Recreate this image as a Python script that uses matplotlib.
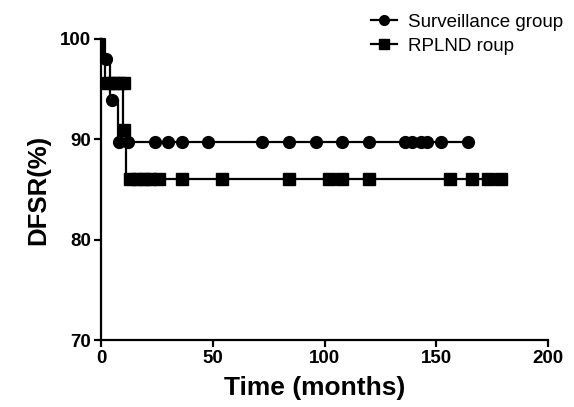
import matplotlib.pyplot as plt

# Kaplan-Meier style step data
surv_times = [0, 1, 4, 7.5]
surv_vals = [100, 98.0, 93.9, 89.7]
surv_end = 164
surv_cens_t = [2.4, 5, 8, 12, 24, 30, 36, 48, 72, 84, 96, 108, 120,
               136, 139, 143, 146, 152, 164]
surv_cens_v = [98.0, 93.9] + [89.7] * 17

rplnd_times = [0, 2, 10, 11]
rplnd_vals = [100, 95.6, 90.9, 86.0]
rplnd_end = 180
rplnd_cens_t = [3, 5.5, 8, 10.5, 10.5, 13, 16, 19, 22, 26, 36, 54, 84,
                102, 108, 120, 156, 166, 173, 179]
rplnd_cens_v = [95.6] * 4 + [90.9] + [86.0] * 15

xticks = [0, 50, 100, 150, 200]
yticks = [70, 80, 90, 100]

plt.rcParams['font.family'] = ['Liberation Sans', 'DejaVu Sans']

fig = plt.figure(figsize=(5.74, 4.07), dpi=100)
ax = fig.add_axes([0.176, 0.1646, 0.779, 0.7396])

ax.step(surv_times + [surv_end], surv_vals + [surv_vals[-1]], where='post',
        color='black', linewidth=1.6, clip_on=False)
ax.plot(surv_cens_t, surv_cens_v, linestyle='none', marker='o', markersize=8.5,
        color='black', clip_on=False)

ax.step(rplnd_times + [rplnd_end], rplnd_vals + [rplnd_vals[-1]], where='post',
        color='black', linewidth=1.6, clip_on=False)
ax.plot(rplnd_cens_t, rplnd_cens_v, linestyle='none', marker='s', markersize=8,
        color='black', clip_on=False)

# legend handles
h1, = ax.plot([], [], color='black', linewidth=1.6, marker='o', markersize=7)
h2, = ax.plot([], [], color='black', linewidth=1.6, marker='s', markersize=7)
fig.legend([h1, h2], ['Surveillance group', 'RPLND roup'], loc='upper left',
           bbox_to_anchor=(0.617, 1.008), frameon=False, fontsize=13.5,
           handlelength=1.4, handletextpad=0.55, labelspacing=0.38)

ax.set_xlim(0, 200)
ax.set_ylim(70, 100)
ax.set_xticks(xticks)
ax.set_yticks(yticks)
ax.spines['top'].set_visible(False)
ax.spines['right'].set_visible(False)
for s in ['left', 'bottom']:
    ax.spines[s].set_linewidth(1.6)
ax.tick_params(direction='out', length=5, width=1.6, labelsize=13.5, pad=2)
for lab in ax.get_xticklabels() + ax.get_yticklabels():
    lab.set_fontweight('bold')

ax.set_xlabel('Time (months)', fontsize=19, fontweight='bold', labelpad=2)
ax.xaxis.set_label_coords(0.477, -0.12)
ax.set_ylabel('DFSR(%)', fontsize=18.5, fontweight='bold', labelpad=7)

fig.savefig('out.png', dpi=100)
plt.close()
